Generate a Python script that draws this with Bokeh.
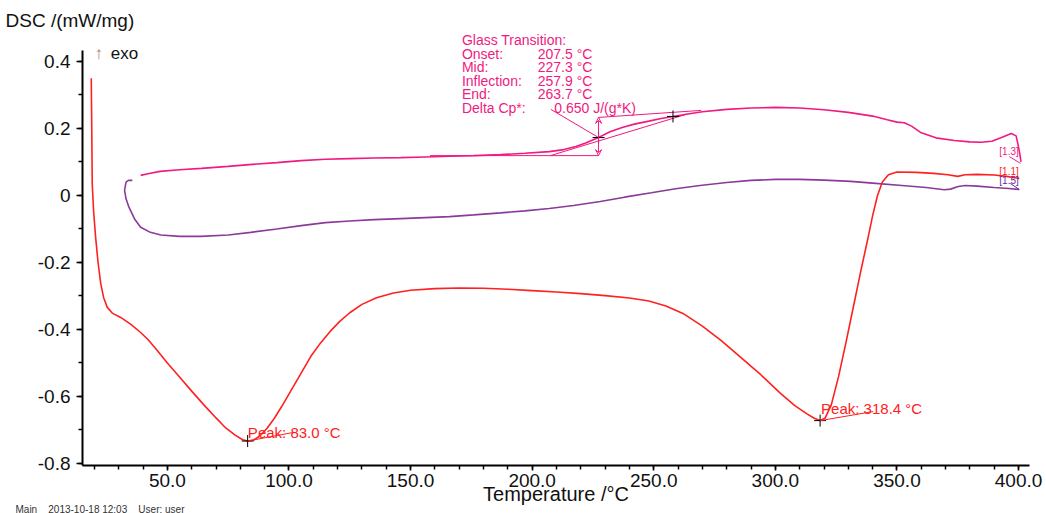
from bokeh.plotting import figure
from bokeh.models import (Range1d, FixedTicker, NumeralTickFormatter, CustomJSTickFormatter,
                          Label, Arrow, VeeHead, Title)
from bokeh.embed import file_html
from bokeh.resources import INLINE

FONT = "Liberation Sans"
RED = "#ff2020"
MAG = "#f01a80"
PUR = "#8b3a9a"
PUR_LBL = "#5a2ca0"

# ---- data: segment [1.1] (red) ----
red_T = [18.7, 18.8, 18.9, 19.1, 19.7, 20.5, 21.5, 22.6, 23.8, 25.3, 27.5, 30.8, 35, 39, 42, 45,
         50, 55, 60, 65, 70, 74, 78, 81, 83, 85.5, 88, 91, 94, 97, 101, 105, 109, 113, 117, 121,
         125, 130, 136, 143, 150, 160, 170, 180, 190, 200, 210, 220, 230, 240, 248, 255,
         262, 270, 278, 286, 294, 302, 308, 313, 316, 318.4, 320.5, 323, 326, 329, 332, 335,
         338, 340, 342, 344, 346.5, 350, 358, 365, 371, 375, 378, 383, 390, 395, 400.3]
red_V = [0.35, 0.28, 0.2, 0.036, -0.05, -0.125, -0.2, -0.263, -0.305, -0.334, -0.352, -0.364,
         -0.385, -0.409, -0.43, -0.455, -0.5, -0.542, -0.584, -0.625, -0.664, -0.694, -0.716,
         -0.729, -0.733, -0.73, -0.718, -0.695, -0.665, -0.63, -0.58, -0.53, -0.48, -0.44,
         -0.405, -0.375, -0.35, -0.325, -0.305, -0.291, -0.283, -0.278, -0.276, -0.277, -0.28,
         -0.284, -0.288, -0.293, -0.299, -0.306, -0.315, -0.33, -0.352, -0.39, -0.435, -0.485,
         -0.535, -0.59, -0.627, -0.652, -0.665, -0.672, -0.664, -0.625, -0.54, -0.44, -0.335,
         -0.23, -0.13, -0.06, 0.0, 0.04, 0.062, 0.07, 0.069, 0.066, 0.062, 0.057, 0.062, 0.063,
         0.061, 0.057, 0.051]

# ---- data: segment [1.3] (magenta) ----
mag_T = [39, 42, 47, 55, 64, 75, 85, 95, 105, 115, 125, 135, 146, 156, 166, 176, 187, 197, 207,
         213, 218, 222, 227.3, 232, 237, 242, 248, 253, 258, 264, 270, 280, 290, 300, 310, 320,
         330, 340, 346, 350, 353, 356, 360, 366, 373.6, 380, 384.7, 389, 393, 397, 399, 399.7,
         400.5, 401]
mag_V = [0.06, 0.065, 0.072, 0.077, 0.081, 0.087, 0.093, 0.098, 0.104, 0.108, 0.11, 0.112, 0.113,
         0.115, 0.117, 0.119, 0.122, 0.126, 0.131, 0.137, 0.146, 0.157, 0.173, 0.19, 0.203,
         0.213, 0.222, 0.23, 0.236, 0.243, 0.25, 0.257, 0.261, 0.263, 0.261, 0.256, 0.248, 0.237,
         0.226, 0.219, 0.217, 0.207, 0.187, 0.172, 0.164, 0.16, 0.159, 0.162, 0.173, 0.185,
         0.178, 0.155, 0.125, 0.1]

# ---- data: segment [1.5] (purple) ----
pur_T = [35.6, 34, 33, 32.4, 33, 34.2, 36.5, 39, 43, 47.3, 55, 63.7, 75, 84.3, 95, 105, 115, 125,
         135, 146, 156, 166, 176, 187, 197, 207, 217, 228, 238, 249, 259, 269, 280, 290, 300, 310,
         320, 331, 340, 352, 362, 369.4, 372, 375.2, 378, 383, 390, 396, 400.3]
pur_V = [0.045, 0.045, 0.04, 0.015, -0.01, -0.035, -0.07, -0.095, -0.11, -0.118, -0.122, -0.122,
         -0.118, -0.11, -0.1, -0.09, -0.081, -0.076, -0.072, -0.069, -0.066, -0.063, -0.058,
         -0.052, -0.046, -0.039, -0.03, -0.018, -0.005, 0.008, 0.02, 0.03, 0.039, 0.045, 0.048,
         0.048, 0.046, 0.042, 0.037, 0.03, 0.024, 0.017, 0.019, 0.027, 0.03, 0.028, 0.024, 0.021,
         0.018]

# ---- evaluation results ----
peak_T = [83.0, 318.4]
peak_V = [-0.733, -0.672]
peak_text = ["Peak: 83.0 °C", "Peak: 318.4 °C"]
gt_onset, gt_mid, gt_infl, gt_end = 207.5, 227.3, 257.9, 263.7
gt_low_V, gt_mid_V, gt_high_V, gt_infl_V = 0.119, 0.173, 0.233, 0.236
gt_names = ["Glass Transition:", "Onset:", "Mid:", "Inflection:", "End:", "Delta Cp*:"]
gt_values = ["", "207.5 °C", "227.3 °C", "257.9 °C", "263.7 °C", "0.650 J/(g*K)"]

x_ticks = [50, 100, 150, 200, 250, 300, 350, 400]
x_minor = [20, 30, 40, 50, 60, 70, 80, 90, 100, 110, 120, 130, 140, 150, 160, 170, 180, 190, 200,
           210, 220, 230, 240, 250, 260, 270, 280, 290, 300, 310, 320, 330, 340, 350, 360, 370,
           380, 390, 400]
y_ticks = [-0.8, -0.6, -0.4, -0.2, 0.0, 0.2, 0.4]
y_minor = [-0.8, -0.7, -0.6, -0.5, -0.4, -0.3, -0.2, -0.1, 0.0, 0.1, 0.2, 0.3, 0.4]

p = figure(width=1046, height=513, x_range=Range1d(15.1, 404.5), y_range=Range1d(-0.806, 0.4925),
           output_backend="svg", toolbar_location=None,
           min_border_left=82, min_border_right=17, min_border_top=30, min_border_bottom=48)
p.grid.visible = False
p.outline_line_color = None

for ax in (p.xaxis[0], p.yaxis[0]):
    ax.axis_line_width = 2
    ax.axis_line_color = "black"
    ax.major_tick_line_color = "black"
    ax.minor_tick_line_color = "black"
    ax.major_tick_line_width = 1.5
    ax.minor_tick_line_width = 1.5
    ax.major_tick_in = 0
    ax.minor_tick_in = 0
    ax.major_label_text_font = FONT
    ax.major_label_text_font_size = "19px"
    ax.major_label_text_color = "#111111"

p.xaxis.ticker = FixedTicker(ticks=x_ticks, minor_ticks=x_minor)
p.xaxis.formatter = NumeralTickFormatter(format="0.0")
p.xaxis.major_tick_out = 5
p.xaxis.minor_tick_out = 4
p.xaxis.major_label_standoff = 3
p.xaxis.axis_label = "Temperature /°C"
p.xaxis.axis_label_text_font = FONT
p.xaxis.axis_label_text_font_size = "20px"
p.xaxis.axis_label_text_font_style = "normal"
p.xaxis.axis_label_text_color = "#111111"
p.xaxis.axis_label_standoff = -7

p.yaxis.ticker = FixedTicker(ticks=y_ticks, minor_ticks=y_minor)
p.yaxis.bounds = (-0.806, 0.433)
p.yaxis.formatter = CustomJSTickFormatter(code="return Math.abs(tick) < 1e-9 ? '0' : tick.toFixed(1);")
p.yaxis.major_tick_out = 6
p.yaxis.minor_tick_out = 4
p.yaxis.major_label_standoff = 6

# curves
p.line(red_T, red_V, line_color=RED, line_width=1.6)
p.line(mag_T, mag_V, line_color=MAG, line_width=1.6)
p.line(pur_T, pur_V, line_color=PUR, line_width=1.6)

# glass transition construction
p.line([158.0, gt_mid], [gt_low_V, gt_low_V], line_color=MAG, line_width=1)
p.line([gt_onset, gt_end], [gt_low_V, 0.243], line_color=MAG, line_width=1)
p.line([gt_mid, 269.5], [gt_high_V, 0.254], line_color=MAG, line_width=1)
p.line([207.7, gt_mid], [0.257, gt_mid_V], line_color=MAG, line_width=1)
p.add_layout(Arrow(x_start=gt_mid, y_start=gt_low_V, x_end=gt_mid, y_end=gt_high_V,
                   line_color=MAG, line_width=1,
                   start=VeeHead(size=6, line_color=MAG, line_width=1, fill_color=None),
                   end=VeeHead(size=6, line_color=MAG, line_width=1, fill_color=None)))
p.scatter([gt_mid, gt_infl], [gt_mid_V, gt_infl_V], marker="cross", size=12,
          line_color="black", line_width=1)

gt_base_V = [0.4627, 0.4224, 0.3821, 0.3418, 0.3015, 0.2612]
for name, val, yv in zip(gt_names, gt_values, gt_base_V):
    p.add_layout(Label(x=171.1, y=yv, text=name, text_font=FONT, text_font_size="14px",
                       text_color=MAG, text_baseline="alphabetic"))
    if val:
        xv = 209.1 if val.startswith("0.650") else 202.3
        p.add_layout(Label(x=xv, y=yv, text=val, text_font=FONT, text_font_size="14px",
                           text_color=MAG, text_baseline="alphabetic"))

# peaks
p.scatter(peak_T, peak_V, marker="cross", size=12, line_color="black", line_width=1)
p.line([peak_T[0], 102.0], [peak_V[0], -0.707], line_color=RED, line_width=1)
p.line([peak_T[1], 340.2], [peak_V[1], -0.645], line_color=RED, line_width=1)
p.add_layout(Label(x=83.1, y=-0.707, text=peak_text[0], text_font=FONT, text_font_size="15px",
                   text_color=RED, text_baseline="alphabetic"))
p.add_layout(Label(x=318.8, y=-0.636, text=peak_text[1], text_font=FONT, text_font_size="15px",
                   text_color=RED, text_baseline="alphabetic"))

# segment labels
p.line([396.2, 400.8], [0.116, 0.096], line_color=MAG, line_width=1)
p.line([396.6, 400.3], [0.036, 0.018], line_color=PUR_LBL, line_width=1)
p.add_layout(Label(x=392.1, y=0.149, text="[1.3]", text_font=FONT, text_font_size="10px",
                   text_color=MAG, text_baseline="top"))
p.add_layout(Label(x=392.1, y=0.087, text="[1.1]", text_font=FONT, text_font_size="10px",
                   text_color=RED, text_baseline="top"))
p.add_layout(Label(x=392.1, y=0.06, text="[1.5]", text_font=FONT, text_font_size="10px",
                   text_color=PUR_LBL, text_baseline="top"))

# y title above the frame
p.add_layout(Title(text="DSC /(mW/mg)", align="left", offset=-77, standoff=0,
                   text_font=FONT, text_font_size="19px", text_font_style="normal",
                   text_color="#111111"), "above")
p.add_layout(Label(x=20.0, y=0.424, text="↑", text_font=FONT, text_font_size="17px",
                   text_color="#b07a7a", text_baseline="alphabetic"))
p.add_layout(Label(x=26.7, y=0.424, text="exo", text_font=FONT, text_font_size="17px",
                   text_color="#111111", text_baseline="alphabetic"))
# footer below the axis
footer = "Main\u00a0\u00a0\u00a0 2013-10-18 12:03\u00a0\u00a0\u00a0 User: user"
p.add_layout(Title(text=footer, align="left", offset=-67,
                   standoff=-14, text_font=FONT, text_font_size="10px", text_font_style="normal",
                   text_color="#333333"), "below")

open("out.html", "w").write(file_html(p, INLINE))
